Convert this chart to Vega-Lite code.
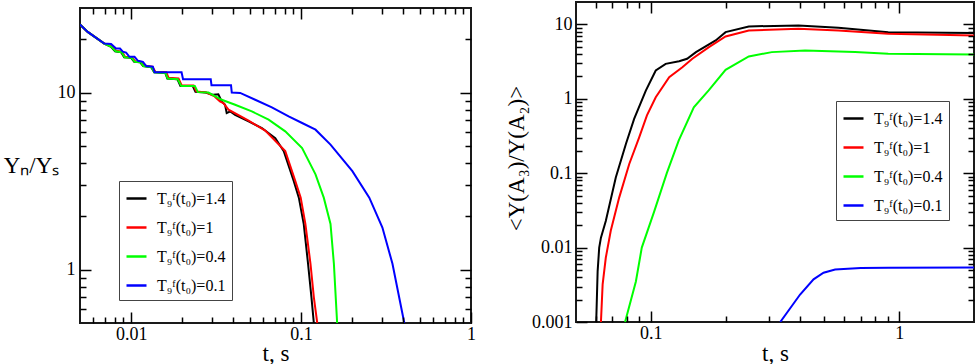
{
  "$schema": "https://vega.github.io/schema/vega-lite/v6.json",
  "padding": {"left": 2, "top": 0, "right": 0, "bottom": 0},
  "autosize": {"type": "pad"},
  "background": "white",
  "config": {
    "view": {"stroke": "#1a1a1a", "strokeWidth": 2, "fill": null},
    "axis": {"domain": false, "grid": false, "labelFont": "Liberation Serif", "labelFontSize": 18, "labelColor": "#000", "titleFont": "Liberation Serif", "titleFontSize": 23, "titleFontWeight": "normal", "titleColor": "#000", "labelOverlap": false, "labelBound": false, "labelFlush": false},
    "legend": {"fillColor": "white", "strokeColor": "#444", "padding": 6, "symbolType": "stroke", "symbolSize": 400, "symbolStrokeWidth": 2.5, "labelFont": "Liberation Serif", "labelFontSize": 16, "labelColor": "#000", "rowPadding": 9, "labelOffset": 9, "cornerRadius": 0, "zindex": 3}
  },
  "datasets": {
    "left": [
      {"t":0.005,"v":24.2,"s":"T₉ᶠ(t₀)=1.4"},{"t":0.00555,"v":22.0,"s":"T₉ᶠ(t₀)=1.4"},{"t":0.00695,"v":18.9,"s":"T₉ᶠ(t₀)=1.4"},{"t":0.00762,"v":18.1,"s":"T₉ᶠ(t₀)=1.4"},{"t":0.00804,"v":17.1,"s":"T₉ᶠ(t₀)=1.4"},{"t":0.00873,"v":16.9,"s":"T₉ᶠ(t₀)=1.4"},{"t":0.0091,"v":15.8,"s":"T₉ᶠ(t₀)=1.4"},{"t":0.01,"v":15.7,"s":"T₉ᶠ(t₀)=1.4"},{"t":0.01042,"v":14.9,"s":"T₉ᶠ(t₀)=1.4"},{"t":0.0113,"v":14.8,"s":"T₉ᶠ(t₀)=1.4"},{"t":0.01177,"v":14.1,"s":"T₉ᶠ(t₀)=1.4"},{"t":0.01313,"v":13.9,"s":"T₉ᶠ(t₀)=1.4"},{"t":0.01367,"v":13.0,"s":"T₉ᶠ(t₀)=1.4"},{"t":0.01588,"v":12.9,"s":"T₉ᶠ(t₀)=1.4"},{"t":0.01633,"v":12.0,"s":"T₉ᶠ(t₀)=1.4"},{"t":0.0187,"v":11.9,"s":"T₉ᶠ(t₀)=1.4"},{"t":0.0195,"v":10.9,"s":"T₉ᶠ(t₀)=1.4"},{"t":0.023,"v":10.9,"s":"T₉ᶠ(t₀)=1.4"},{"t":0.0239,"v":10.1,"s":"T₉ᶠ(t₀)=1.4"},{"t":0.0274,"v":10.0,"s":"T₉ᶠ(t₀)=1.4"},{"t":0.0304,"v":9.7,"s":"T₉ᶠ(t₀)=1.4"},{"t":0.0326,"v":9.78,"s":"T₉ᶠ(t₀)=1.4"},{"t":0.0341,"v":8.9,"s":"T₉ᶠ(t₀)=1.4"},{"t":0.0357,"v":8.53,"s":"T₉ᶠ(t₀)=1.4"},{"t":0.0365,"v":7.65,"s":"T₉ᶠ(t₀)=1.4"},{"t":0.0383,"v":7.82,"s":"T₉ᶠ(t₀)=1.4"},{"t":0.0409,"v":7.49,"s":"T₉ᶠ(t₀)=1.4"},{"t":0.0491,"v":6.88,"s":"T₉ᶠ(t₀)=1.4"},{"t":0.0588,"v":6.3,"s":"T₉ᶠ(t₀)=1.4"},{"t":0.0705,"v":5.53,"s":"T₉ᶠ(t₀)=1.4"},{"t":0.0791,"v":4.67,"s":"T₉ᶠ(t₀)=1.4"},{"t":0.0906,"v":3.16,"s":"T₉ᶠ(t₀)=1.4"},{"t":0.097,"v":2.55,"s":"T₉ᶠ(t₀)=1.4"},{"t":0.1037,"v":1.81,"s":"T₉ᶠ(t₀)=1.4"},{"t":0.1099,"v":1.08,"s":"T₉ᶠ(t₀)=1.4"},{"t":0.1151,"v":0.698,"s":"T₉ᶠ(t₀)=1.4"},{"t":0.1189,"v":0.5,"s":"T₉ᶠ(t₀)=1.4"},
      {"t":0.005,"v":24.2,"s":"T₉ᶠ(t₀)=1"},{"t":0.00555,"v":22.0,"s":"T₉ᶠ(t₀)=1"},{"t":0.00695,"v":18.9,"s":"T₉ᶠ(t₀)=1"},{"t":0.0077,"v":18.2,"s":"T₉ᶠ(t₀)=1"},{"t":0.00815,"v":17.2,"s":"T₉ᶠ(t₀)=1"},{"t":0.00885,"v":17.0,"s":"T₉ᶠ(t₀)=1"},{"t":0.0092,"v":15.9,"s":"T₉ᶠ(t₀)=1"},{"t":0.0101,"v":15.8,"s":"T₉ᶠ(t₀)=1"},{"t":0.01057,"v":15.0,"s":"T₉ᶠ(t₀)=1"},{"t":0.0115,"v":14.9,"s":"T₉ᶠ(t₀)=1"},{"t":0.0119,"v":14.2,"s":"T₉ᶠ(t₀)=1"},{"t":0.0133,"v":14.0,"s":"T₉ᶠ(t₀)=1"},{"t":0.0139,"v":13.1,"s":"T₉ᶠ(t₀)=1"},{"t":0.0161,"v":13.0,"s":"T₉ᶠ(t₀)=1"},{"t":0.0166,"v":12.1,"s":"T₉ᶠ(t₀)=1"},{"t":0.019,"v":12.0,"s":"T₉ᶠ(t₀)=1"},{"t":0.0198,"v":11.0,"s":"T₉ᶠ(t₀)=1"},{"t":0.0233,"v":10.95,"s":"T₉ᶠ(t₀)=1"},{"t":0.0242,"v":10.15,"s":"T₉ᶠ(t₀)=1"},{"t":0.0278,"v":10.0,"s":"T₉ᶠ(t₀)=1"},{"t":0.031,"v":9.5,"s":"T₉ᶠ(t₀)=1"},{"t":0.0333,"v":8.9,"s":"T₉ᶠ(t₀)=1"},{"t":0.0349,"v":8.71,"s":"T₉ᶠ(t₀)=1"},{"t":0.0374,"v":8.0,"s":"T₉ᶠ(t₀)=1"},{"t":0.0491,"v":6.93,"s":"T₉ᶠ(t₀)=1"},{"t":0.0615,"v":6.1,"s":"T₉ᶠ(t₀)=1"},{"t":0.0807,"v":4.67,"s":"T₉ᶠ(t₀)=1"},{"t":0.0925,"v":3.16,"s":"T₉ᶠ(t₀)=1"},{"t":0.0995,"v":2.55,"s":"T₉ᶠ(t₀)=1"},{"t":0.106,"v":1.81,"s":"T₉ᶠ(t₀)=1"},{"t":0.1136,"v":1.08,"s":"T₉ᶠ(t₀)=1"},{"t":0.1189,"v":0.698,"s":"T₉ᶠ(t₀)=1"},{"t":0.1245,"v":0.5,"s":"T₉ᶠ(t₀)=1"},
      {"t":0.005,"v":24.2,"s":"T₉ᶠ(t₀)=0.4"},{"t":0.00555,"v":22.0,"s":"T₉ᶠ(t₀)=0.4"},{"t":0.00695,"v":18.9,"s":"T₉ᶠ(t₀)=0.4"},{"t":0.00765,"v":18.1,"s":"T₉ᶠ(t₀)=0.4"},{"t":0.0081,"v":17.1,"s":"T₉ᶠ(t₀)=0.4"},{"t":0.0088,"v":16.9,"s":"T₉ᶠ(t₀)=0.4"},{"t":0.00915,"v":15.8,"s":"T₉ᶠ(t₀)=0.4"},{"t":0.01005,"v":15.7,"s":"T₉ᶠ(t₀)=0.4"},{"t":0.0105,"v":14.9,"s":"T₉ᶠ(t₀)=0.4"},{"t":0.0114,"v":14.8,"s":"T₉ᶠ(t₀)=0.4"},{"t":0.0118,"v":14.1,"s":"T₉ᶠ(t₀)=0.4"},{"t":0.0132,"v":13.9,"s":"T₉ᶠ(t₀)=0.4"},{"t":0.0137,"v":13.0,"s":"T₉ᶠ(t₀)=0.4"},{"t":0.0159,"v":12.9,"s":"T₉ᶠ(t₀)=0.4"},{"t":0.0164,"v":12.0,"s":"T₉ᶠ(t₀)=0.4"},{"t":0.0188,"v":11.9,"s":"T₉ᶠ(t₀)=0.4"},{"t":0.0197,"v":10.9,"s":"T₉ᶠ(t₀)=0.4"},{"t":0.0237,"v":10.9,"s":"T₉ᶠ(t₀)=0.4"},{"t":0.0247,"v":10.05,"s":"T₉ᶠ(t₀)=0.4"},{"t":0.0285,"v":10.0,"s":"T₉ᶠ(t₀)=0.4"},{"t":0.0341,"v":9.1,"s":"T₉ᶠ(t₀)=0.4"},{"t":0.0409,"v":8.53,"s":"T₉ᶠ(t₀)=0.4"},{"t":0.0513,"v":7.82,"s":"T₉ᶠ(t₀)=0.4"},{"t":0.0644,"v":7.03,"s":"T₉ᶠ(t₀)=0.4"},{"t":0.0807,"v":6.04,"s":"T₉ᶠ(t₀)=0.4"},{"t":0.1014,"v":4.86,"s":"T₉ᶠ(t₀)=0.4"},{"t":0.1216,"v":3.45,"s":"T₉ᶠ(t₀)=0.4"},{"t":0.136,"v":2.55,"s":"T₉ᶠ(t₀)=0.4"},{"t":0.149,"v":1.81,"s":"T₉ᶠ(t₀)=0.4"},{"t":0.156,"v":1.08,"s":"T₉ᶠ(t₀)=0.4"},{"t":0.163,"v":0.5,"s":"T₉ᶠ(t₀)=0.4"},
      {"t":0.005,"v":24.2,"s":"T₉ᶠ(t₀)=0.1"},{"t":0.00555,"v":22.0,"s":"T₉ᶠ(t₀)=0.1"},{"t":0.00695,"v":18.9,"s":"T₉ᶠ(t₀)=0.1"},{"t":0.00762,"v":18.8,"s":"T₉ᶠ(t₀)=0.1"},{"t":0.00815,"v":17.7,"s":"T₉ᶠ(t₀)=0.1"},{"t":0.0086,"v":17.7,"s":"T₉ᶠ(t₀)=0.1"},{"t":0.00893,"v":17.0,"s":"T₉ᶠ(t₀)=0.1"},{"t":0.00934,"v":16.8,"s":"T₉ᶠ(t₀)=0.1"},{"t":0.00977,"v":15.9,"s":"T₉ᶠ(t₀)=0.1"},{"t":0.01047,"v":15.9,"s":"T₉ᶠ(t₀)=0.1"},{"t":0.01097,"v":15.1,"s":"T₉ᶠ(t₀)=0.1"},{"t":0.01173,"v":14.9,"s":"T₉ᶠ(t₀)=0.1"},{"t":0.01227,"v":14.1,"s":"T₉ᶠ(t₀)=0.1"},{"t":0.01343,"v":14.0,"s":"T₉ᶠ(t₀)=0.1"},{"t":0.01374,"v":13.0,"s":"T₉ᶠ(t₀)=0.1"},{"t":0.0198,"v":13.0,"s":"T₉ᶠ(t₀)=0.1"},{"t":0.0202,"v":11.9,"s":"T₉ᶠ(t₀)=0.1"},{"t":0.0294,"v":11.9,"s":"T₉ᶠ(t₀)=0.1"},{"t":0.0297,"v":11.0,"s":"T₉ᶠ(t₀)=0.1"},{"t":0.0387,"v":11.0,"s":"T₉ᶠ(t₀)=0.1"},{"t":0.0391,"v":10.0,"s":"T₉ᶠ(t₀)=0.1"},{"t":0.0438,"v":9.95,"s":"T₉ᶠ(t₀)=0.1"},{"t":0.0537,"v":9.1,"s":"T₉ᶠ(t₀)=0.1"},{"t":0.0673,"v":8.24,"s":"T₉ᶠ(t₀)=0.1"},{"t":0.0845,"v":7.33,"s":"T₉ᶠ(t₀)=0.1"},{"t":0.1014,"v":6.73,"s":"T₉ᶠ(t₀)=0.1"},{"t":0.1216,"v":6.17,"s":"T₉ᶠ(t₀)=0.1"},{"t":0.149,"v":5.08,"s":"T₉ᶠ(t₀)=0.1"},{"t":0.2004,"v":3.6,"s":"T₉ᶠ(t₀)=0.1"},{"t":0.252,"v":2.55,"s":"T₉ᶠ(t₀)=0.1"},{"t":0.301,"v":1.73,"s":"T₉ᶠ(t₀)=0.1"},{"t":0.345,"v":1.08,"s":"T₉ᶠ(t₀)=0.1"},{"t":0.405,"v":0.5,"s":"T₉ᶠ(t₀)=0.1"}
    ],
    "right": [
      {"t":0.0603,"v":0.001,"s":"T₉ᶠ(t₀)=1.4"},{"t":0.0611,"v":0.0048,"s":"T₉ᶠ(t₀)=1.4"},{"t":0.062,"v":0.01,"s":"T₉ᶠ(t₀)=1.4"},{"t":0.063,"v":0.0136,"s":"T₉ᶠ(t₀)=1.4"},{"t":0.0659,"v":0.0228,"s":"T₉ᶠ(t₀)=1.4"},{"t":0.0723,"v":0.0875,"s":"T₉ᶠ(t₀)=1.4"},{"t":0.0794,"v":0.247,"s":"T₉ᶠ(t₀)=1.4"},{"t":0.0857,"v":0.536,"s":"T₉ᶠ(t₀)=1.4"},{"t":0.0955,"v":1.29,"s":"T₉ᶠ(t₀)=1.4"},{"t":0.1047,"v":2.4,"s":"T₉ᶠ(t₀)=1.4"},{"t":0.1148,"v":2.95,"s":"T₉ᶠ(t₀)=1.4"},{"t":0.13,"v":3.2,"s":"T₉ᶠ(t₀)=1.4"},{"t":0.14,"v":3.45,"s":"T₉ᶠ(t₀)=1.4"},{"t":0.152,"v":4.24,"s":"T₉ᶠ(t₀)=1.4"},{"t":0.1825,"v":6.08,"s":"T₉ᶠ(t₀)=1.4"},{"t":0.2,"v":7.87,"s":"T₉ᶠ(t₀)=1.4"},{"t":0.248,"v":9.39,"s":"T₉ᶠ(t₀)=1.4"},{"t":0.393,"v":9.7,"s":"T₉ᶠ(t₀)=1.4"},{"t":0.569,"v":9.03,"s":"T₉ᶠ(t₀)=1.4"},{"t":0.903,"v":7.87,"s":"T₉ᶠ(t₀)=1.4"},{"t":2.0,"v":7.64,"s":"T₉ᶠ(t₀)=1.4"},
      {"t":0.063,"v":0.001,"s":"T₉ᶠ(t₀)=1"},{"t":0.064,"v":0.0032,"s":"T₉ᶠ(t₀)=1"},{"t":0.0659,"v":0.0073,"s":"T₉ᶠ(t₀)=1"},{"t":0.069,"v":0.0168,"s":"T₉ᶠ(t₀)=1"},{"t":0.0746,"v":0.047,"s":"T₉ᶠ(t₀)=1"},{"t":0.0819,"v":0.133,"s":"T₉ᶠ(t₀)=1"},{"t":0.0898,"v":0.303,"s":"T₉ᶠ(t₀)=1"},{"t":0.0965,"v":0.6,"s":"T₉ᶠ(t₀)=1"},{"t":0.1047,"v":1.05,"s":"T₉ᶠ(t₀)=1"},{"t":0.1186,"v":1.95,"s":"T₉ᶠ(t₀)=1"},{"t":0.134,"v":2.66,"s":"T₉ᶠ(t₀)=1"},{"t":0.147,"v":3.45,"s":"T₉ᶠ(t₀)=1"},{"t":0.1714,"v":4.94,"s":"T₉ᶠ(t₀)=1"},{"t":0.2,"v":6.89,"s":"T₉ᶠ(t₀)=1"},{"t":0.248,"v":8.3,"s":"T₉ᶠ(t₀)=1"},{"t":0.393,"v":8.75,"s":"T₉ᶠ(t₀)=1"},{"t":0.569,"v":8.3,"s":"T₉ᶠ(t₀)=1"},{"t":0.903,"v":7.48,"s":"T₉ᶠ(t₀)=1"},{"t":2.0,"v":7.11,"s":"T₉ᶠ(t₀)=1"},
      {"t":0.0788,"v":0.001,"s":"T₉ᶠ(t₀)=0.4"},{"t":0.0871,"v":0.0035,"s":"T₉ᶠ(t₀)=0.4"},{"t":0.092,"v":0.01,"s":"T₉ᶠ(t₀)=0.4"},{"t":0.103,"v":0.03,"s":"T₉ᶠ(t₀)=0.4"},{"t":0.116,"v":0.1,"s":"T₉ᶠ(t₀)=0.4"},{"t":0.1295,"v":0.274,"s":"T₉ᶠ(t₀)=0.4"},{"t":0.149,"v":0.77,"s":"T₉ᶠ(t₀)=0.4"},{"t":0.171,"v":1.3,"s":"T₉ᶠ(t₀)=0.4"},{"t":0.2,"v":2.45,"s":"T₉ᶠ(t₀)=0.4"},{"t":0.248,"v":3.71,"s":"T₉ᶠ(t₀)=0.4"},{"t":0.307,"v":4.24,"s":"T₉ᶠ(t₀)=0.4"},{"t":0.418,"v":4.47,"s":"T₉ᶠ(t₀)=0.4"},{"t":0.664,"v":4.24,"s":"T₉ᶠ(t₀)=0.4"},{"t":0.903,"v":4.03,"s":"T₉ᶠ(t₀)=0.4"},{"t":2.0,"v":3.95,"s":"T₉ᶠ(t₀)=0.4"},
      {"t":0.332,"v":0.001,"s":"T₉ᶠ(t₀)=0.1"},{"t":0.399,"v":0.00234,"s":"T₉ᶠ(t₀)=0.1"},{"t":0.452,"v":0.00374,"s":"T₉ᶠ(t₀)=0.1"},{"t":0.496,"v":0.00459,"s":"T₉ᶠ(t₀)=0.1"},{"t":0.552,"v":0.00509,"s":"T₉ᶠ(t₀)=0.1"},{"t":0.7,"v":0.0053,"s":"T₉ᶠ(t₀)=0.1"},{"t":0.903,"v":0.00535,"s":"T₉ᶠ(t₀)=0.1"},{"t":2.0,"v":0.0054,"s":"T₉ᶠ(t₀)=0.1"}
    ]
  },
  "resolve": {"scale": {"color": "independent"}, "legend": {"color": "independent"}},
  "spacing": 27,
  "hconcat": [
    {
      "spacing": 0,
      "bounds": "flush",
      "vconcat": [
        {"width": 391, "height": 6, "data": {"values": [{}]}, "mark": {"type": "point", "opacity": 0, "size": 1}, "encoding": {}, "view": {"stroke": null}},
        {
          "width": 391, "height": 315,
          "data": {"name": "left"},
          "resolve": {"axis": {"x": "independent", "y": "independent"}},
          "layer": [
            {
              "mark": {"type": "line", "strokeWidth": 2, "clip": true},
              "encoding": {
                "x": {"field": "t", "type": "quantitative", "scale": {"type": "log", "domain": [0.005, 1], "nice": false},
                  "axis": {"orient": "bottom", "values": [0.01, 0.1, 1], "offset": -11, "tickSize": 11, "ticks": true, "tickColor": "black", "tickWidth": 1.5, "tickOpacity": 1, "zindex": 1,
                    "labelExpr": "toString(datum.value)",
                    "labelPadding": 2, "title": "t, s", "titleY": 41, "titleBaseline": "middle"}},
                "y": {"field": "v", "type": "quantitative", "scale": {"type": "log", "domain": [0.5, 30], "nice": false},
                  "axis": {"orient": "left", "values": [1, 10], "offset": -11, "tickSize": 11, "ticks": true, "tickColor": "black", "tickWidth": 1.5, "tickOpacity": 1, "zindex": 1,
                    "labelExpr": "toString(datum.value)",
                    "labelPadding": 5, "title": "Yₙ/Yₛ", "titleAngle": 0, "titleX": -60, "titleY": 157, "titleAlign": "center", "titleBaseline": "middle"}},
                "color": {"field": "s", "type": "nominal",
                  "scale": {"domain": ["T₉ᶠ(t₀)=1.4", "T₉ᶠ(t₀)=1", "T₉ᶠ(t₀)=0.4", "T₉ᶠ(t₀)=0.1"], "range": ["#000000", "#ff0000", "#00ff00", "#0000ff"]},
                  "legend": {"title": null, "orient": "none", "legendX": 39, "legendY": 179}}
              }
            },
            {
              "mark": {"type": "point", "opacity": 0},
              "encoding": {
                "x": {"field": "t", "type": "quantitative", "scale": {"type": "log", "domain": [0.005, 1], "nice": false},
                  "axis": {"orient": "top", "values": [0.01, 0.1], "offset": -11, "tickSize": 11, "ticks": true, "tickColor": "black", "tickWidth": 1.5, "tickOpacity": 1, "zindex": 1, "labels": false, "title": null}},
                "y": {"field": "v", "type": "quantitative", "scale": {"type": "log", "domain": [0.5, 30], "nice": false},
                  "axis": {"orient": "right", "values": [1, 10], "offset": -11, "tickSize": 11, "ticks": true, "tickColor": "black", "tickWidth": 1.5, "tickOpacity": 1, "zindex": 1, "labels": false, "title": null}}
              }
            },
            {
              "mark": {"type": "point", "opacity": 0},
              "encoding": {
                "x": {"field": "t", "type": "quantitative", "scale": {"type": "log", "domain": [0.005, 1], "nice": false},
                  "axis": {"orient": "bottom", "values": [0.006,0.007,0.008,0.009,0.02,0.03,0.04,0.05,0.06,0.07,0.08,0.09,0.2,0.3,0.4,0.5,0.6,0.7,0.8,0.9], "offset": -6, "tickSize": 6, "ticks": true, "tickColor": "black", "tickWidth": 1.5, "tickOpacity": 1, "zindex": 1, "labels": false, "title": null}},
                "y": {"field": "v", "type": "quantitative", "scale": {"type": "log", "domain": [0.5, 30], "nice": false},
                  "axis": {"orient": "left", "values": [0.6,0.7,0.8,0.9,2,3,4,5,6,7,8,9,20], "offset": -6, "tickSize": 6, "ticks": true, "tickColor": "black", "tickWidth": 1.5, "tickOpacity": 1, "zindex": 1, "labels": false, "title": null}}
              }
            },
            {
              "mark": {"type": "point", "opacity": 0},
              "encoding": {
                "x": {"field": "t", "type": "quantitative", "scale": {"type": "log", "domain": [0.005, 1], "nice": false},
                  "axis": {"orient": "top", "values": [0.006,0.007,0.008,0.009,0.02,0.03,0.04,0.05,0.06,0.07,0.08,0.09,0.2,0.3,0.4,0.5,0.6,0.7,0.8,0.9], "offset": -6, "tickSize": 6, "ticks": true, "tickColor": "black", "tickWidth": 1.5, "tickOpacity": 1, "zindex": 1, "labels": false, "title": null}},
                "y": {"field": "v", "type": "quantitative", "scale": {"type": "log", "domain": [0.5, 30], "nice": false},
                  "axis": {"orient": "right", "values": [0.6,0.7,0.8,0.9,2,3,4,5,6,7,8,9,20], "offset": -6, "tickSize": 6, "ticks": true, "tickColor": "black", "tickWidth": 1.5, "tickOpacity": 1, "zindex": 1, "labels": false, "title": null}}
              }
            }
          ]
        }
      ]
    },
    {
      "width": 398, "height": 320,
      "data": {"name": "right"},
      "resolve": {"axis": {"x": "independent", "y": "independent"}},
      "layer": [
        {
          "mark": {"type": "line", "strokeWidth": 2, "clip": true},
          "encoding": {
            "x": {"field": "t", "type": "quantitative", "scale": {"type": "log", "domain": [0.05, 2], "nice": false},
              "axis": {"orient": "bottom", "values": [0.1, 1], "offset": -11, "tickSize": 11, "ticks": true, "tickColor": "black", "tickWidth": 1.5, "tickOpacity": 1, "zindex": 1,
                "labelExpr": "toString(datum.value)",
                "labelPadding": 2, "title": "t, s", "titleY": 42, "titleBaseline": "middle"}},
            "y": {"field": "v", "type": "quantitative", "scale": {"type": "log", "domain": [0.001, 20], "nice": false},
              "axis": {"orient": "left", "values": [0.001, 0.01, 0.1, 1, 10], "offset": -11, "tickSize": 11, "ticks": true, "tickColor": "black", "tickWidth": 1.5, "tickOpacity": 1, "zindex": 1,
                "labelExpr": "toString(datum.value)",
                "labelPadding": 4, "title": "<Y(A₃)/Y(A₂)>", "titleX": -71, "titleY": 156, "titleAlign": "center", "titleBaseline": "middle"}},
            "color": {"field": "s", "type": "nominal",
              "scale": {"domain": ["T₉ᶠ(t₀)=1.4", "T₉ᶠ(t₀)=1", "T₉ᶠ(t₀)=0.4", "T₉ᶠ(t₀)=0.1"], "range": ["#000000", "#ff0000", "#00ff00", "#0000ff"]},
              "legend": {"title": null, "orient": "none", "legendX": 260, "legendY": 99}}
          }
        },
        {
          "mark": {"type": "point", "opacity": 0},
          "encoding": {
            "x": {"field": "t", "type": "quantitative", "scale": {"type": "log", "domain": [0.05, 2], "nice": false},
              "axis": {"orient": "top", "values": [0.1, 1], "offset": -11, "tickSize": 11, "ticks": true, "tickColor": "black", "tickWidth": 1.5, "tickOpacity": 1, "zindex": 1, "labels": false, "title": null}},
            "y": {"field": "v", "type": "quantitative", "scale": {"type": "log", "domain": [0.001, 20], "nice": false},
              "axis": {"orient": "right", "values": [0.01, 0.1, 1, 10], "offset": -11, "tickSize": 11, "ticks": true, "tickColor": "black", "tickWidth": 1.5, "tickOpacity": 1, "zindex": 1, "labels": false, "title": null}}
          }
        },
        {
          "mark": {"type": "point", "opacity": 0},
          "encoding": {
            "x": {"field": "t", "type": "quantitative", "scale": {"type": "log", "domain": [0.05, 2], "nice": false},
              "axis": {"orient": "bottom", "values": [0.06,0.07,0.08,0.09,0.2,0.3,0.4,0.5,0.6,0.7,0.8,0.9], "offset": -6, "tickSize": 6, "ticks": true, "tickColor": "black", "tickWidth": 1.5, "tickOpacity": 1, "zindex": 1, "labels": false, "title": null}},
            "y": {"field": "v", "type": "quantitative", "scale": {"type": "log", "domain": [0.001, 20], "nice": false},
              "axis": {"orient": "left", "values": [0.002,0.003,0.004,0.005,0.006,0.007,0.008,0.009,0.02,0.03,0.04,0.05,0.06,0.07,0.08,0.09,0.2,0.3,0.4,0.5,0.6,0.7,0.8,0.9,2,3,4,5,6,7,8,9], "offset": -6, "tickSize": 6, "ticks": true, "tickColor": "black", "tickWidth": 1.5, "tickOpacity": 1, "zindex": 1, "labels": false, "title": null}}
          }
        },
        {
          "mark": {"type": "point", "opacity": 0},
          "encoding": {
            "x": {"field": "t", "type": "quantitative", "scale": {"type": "log", "domain": [0.05, 2], "nice": false},
              "axis": {"orient": "top", "values": [0.06,0.07,0.08,0.09,0.2,0.3,0.4,0.5,0.6,0.7,0.8,0.9], "offset": -6, "tickSize": 6, "ticks": true, "tickColor": "black", "tickWidth": 1.5, "tickOpacity": 1, "zindex": 1, "labels": false, "title": null}},
            "y": {"field": "v", "type": "quantitative", "scale": {"type": "log", "domain": [0.001, 20], "nice": false},
              "axis": {"orient": "right", "values": [0.002,0.003,0.004,0.005,0.006,0.007,0.008,0.009,0.02,0.03,0.04,0.05,0.06,0.07,0.08,0.09,0.2,0.3,0.4,0.5,0.6,0.7,0.8,0.9,2,3,4,5,6,7,8,9], "offset": -6, "tickSize": 6, "ticks": true, "tickColor": "black", "tickWidth": 1.5, "tickOpacity": 1, "zindex": 1, "labels": false, "title": null}}
          }
        }
      ]
    }
  ]
}
